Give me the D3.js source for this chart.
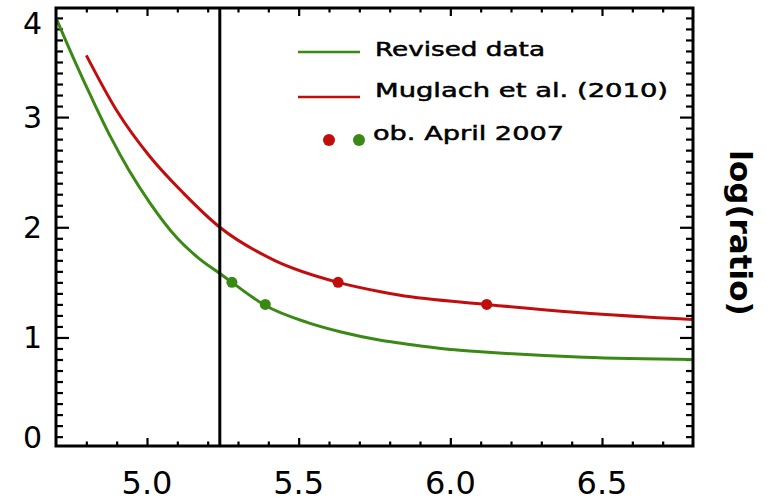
<!DOCTYPE html>
<html><head><meta charset="utf-8">
<script src="https://cdn.jsdelivr.net/npm/d3@7"></script>
<style>html,body{margin:0;padding:0;background:#fff;} svg{display:block}</style>
</head><body><svg id="c" width="767" height="502"></svg>
<script>
// ---- data ----
const revisedX = [4.70, 4.76, 4.82, 4.88, 4.94, 5.01, 5.10, 5.17, 5.24, 5.28, 5.39, 5.53, 5.64, 5.77, 5.83, 6.00, 6.10, 6.44, 6.80];
const revisedY = [3.90, 3.52, 3.16, 2.82, 2.52, 2.22, 1.90, 1.72, 1.58, 1.50, 1.29, 1.135, 1.05, 0.975, 0.95, 0.89, 0.87, 0.82, 0.80];
const muglachX = [4.80, 4.90, 5.01, 5.12, 5.24, 5.42, 5.63, 5.77, 5.83, 6.12, 6.43, 6.80];
const muglachY = [3.56, 3.06, 2.64, 2.31, 2.00, 1.70, 1.50, 1.415, 1.385, 1.30, 1.225, 1.163];
const obsRedX = [5.63, 6.12];
const obsRedY = [1.50, 1.30];
const obsGreenX = [5.28, 5.39];
const obsGreenY = [1.50, 1.30];
const markerX = 5.24;
const xTickValues = [5.0, 5.5, 6.0, 6.5];
const xTickLabels = ["5.0", "5.5", "6.0", "6.5"];
const yTickValues = [0, 1, 2, 3, 4];
const yTickLabels = ["0", "1", "2", "3", "4"];
const legendLabels = ["Revised data", "Muglach et al. (2010)", "ob. April 2007"];
const yTitle = "log(ratio)";

// ---- layout ----
const GREEN = "#3a8914", RED = "#c20d0d";
const L = 56, R = 693, T = 8, B = 446;
const svg = d3.select("#c");
const x = d3.scaleLinear().domain([4.7, 6.8]).range([L, R]);
const y = d3.scaleLinear().domain([0.015, 3.99]).range([B, T]);

const xMinor = d3.range(48, 68).map(v => v / 10).filter(v => !xTickValues.some(m => Math.abs(m - v) < 1e-6));
const yMinor = d3.range(1, 40).map(v => v / 10).filter(v => !yTickValues.some(m => Math.abs(m - v) < 1e-6));
const yMajorIn = yTickValues.filter(v => v > 0.02 && v < 3.98);

function tickAxis(axisFn, scale, vals, size, transform) {
  const g = svg.append("g").attr("transform", transform)
    .call(axisFn(scale).tickValues(vals).tickSize(-size).tickFormat(""));
  g.select(".domain").remove();
  g.selectAll("line").attr("stroke", "#000").attr("stroke-width", 2.2);
}
tickAxis(d3.axisLeft, y, yMinor, 7, `translate(${L},0)`);
tickAxis(d3.axisLeft, y, yMajorIn, 13, `translate(${L},0)`);
tickAxis(d3.axisRight, y, yMinor, 7, `translate(${R},0)`);
tickAxis(d3.axisRight, y, yMajorIn, 13, `translate(${R},0)`);
tickAxis(d3.axisBottom, x, xMinor, 4.5, `translate(0,${B})`);
tickAxis(d3.axisBottom, x, xTickValues, 8, `translate(0,${B})`);
tickAxis(d3.axisTop, x, xMinor, 4.5, `translate(0,${T})`);
tickAxis(d3.axisTop, x, xTickValues, 8, `translate(0,${T})`);

svg.append("clipPath").attr("id", "clip").append("rect")
  .attr("x", L).attr("y", T).attr("width", R - L).attr("height", B - T);

const line = d3.line().x(d => x(d[0])).y(d => y(d[1])).curve(d3.curveMonotoneX);
const plot = svg.append("g").attr("clip-path", "url(#clip)");
plot.append("path").datum(d3.zip(muglachX, muglachY))
  .attr("d", line).attr("fill", "none").attr("stroke", RED).attr("stroke-width", 3);
plot.append("path").datum(d3.zip(revisedX, revisedY))
  .attr("d", line).attr("fill", "none").attr("stroke", GREEN).attr("stroke-width", 3);
plot.selectAll("circle.r").data(d3.zip(obsRedX, obsRedY)).join("circle")
  .attr("cx", d => x(d[0])).attr("cy", d => y(d[1])).attr("r", 5.5).attr("fill", RED);
plot.selectAll("circle.g").data(d3.zip(obsGreenX, obsGreenY)).join("circle")
  .attr("cx", d => x(d[0])).attr("cy", d => y(d[1])).attr("r", 5.5).attr("fill", GREEN);

svg.append("line").attr("x1", x(markerX)).attr("x2", x(markerX)).attr("y1", T).attr("y2", B)
  .attr("stroke", "#000").attr("stroke-width", 3);

svg.append("rect").attr("x", L).attr("y", T).attr("width", R - L).attr("height", B - T)
  .attr("fill", "none").attr("stroke", "#000").attr("stroke-width", 3);

const font = "DejaVu Sans, sans-serif";
svg.selectAll("text.xl").data(xTickValues).join("text")
  .attr("x", d => x(d)).attr("y", 494).attr("text-anchor", "middle")
  .attr("font-family", font).attr("font-size", 32).attr("fill", "#000")
  .text((d, i) => xTickLabels[i]);
svg.selectAll("text.yl").data(yTickValues).join("text")
  .attr("x", 42).attr("y", d => Math.max(23, Math.min(437, y(d))))
  .attr("dy", "0.36em").attr("text-anchor", "end")
  .attr("font-family", font).attr("font-size", 30).attr("fill", "#000")
  .text((d, i) => yTickLabels[i]);

svg.append("text").attr("transform", "translate(741,233) rotate(90)")
  .attr("text-anchor", "middle").attr("dy", "0.35em")
  .attr("font-family", font).attr("font-weight", "bold").attr("font-size", 31)
  .attr("fill", "#000").text(yTitle);

const lg = svg.append("g");
lg.append("line").attr("x1", 298).attr("x2", 360).attr("y1", 52).attr("y2", 52)
  .attr("stroke", GREEN).attr("stroke-width", 2.5);
lg.append("line").attr("x1", 298).attr("x2", 360).attr("y1", 97).attr("y2", 97)
  .attr("stroke", RED).attr("stroke-width", 2.5);
lg.append("circle").attr("cx", 329).attr("cy", 140).attr("r", 6).attr("fill", RED);
lg.append("circle").attr("cx", 359).attr("cy", 140).attr("r", 6).attr("fill", GREEN);
const lgY = [56, 97, 140], lgW = [170, 293, 191];
lg.selectAll("text").data(legendLabels).join("text")
  .attr("x", (d, i) => i === 2 ? 373 : 375).attr("y", (d, i) => lgY[i])
  .attr("font-family", font).attr("font-size", 19.5).attr("fill", "#000")
  .attr("stroke", "#000").attr("stroke-width", 0.5)
  .attr("textLength", (d, i) => lgW[i]).attr("lengthAdjust", "spacingAndGlyphs")
  .text(d => d);
</script></body></html>
